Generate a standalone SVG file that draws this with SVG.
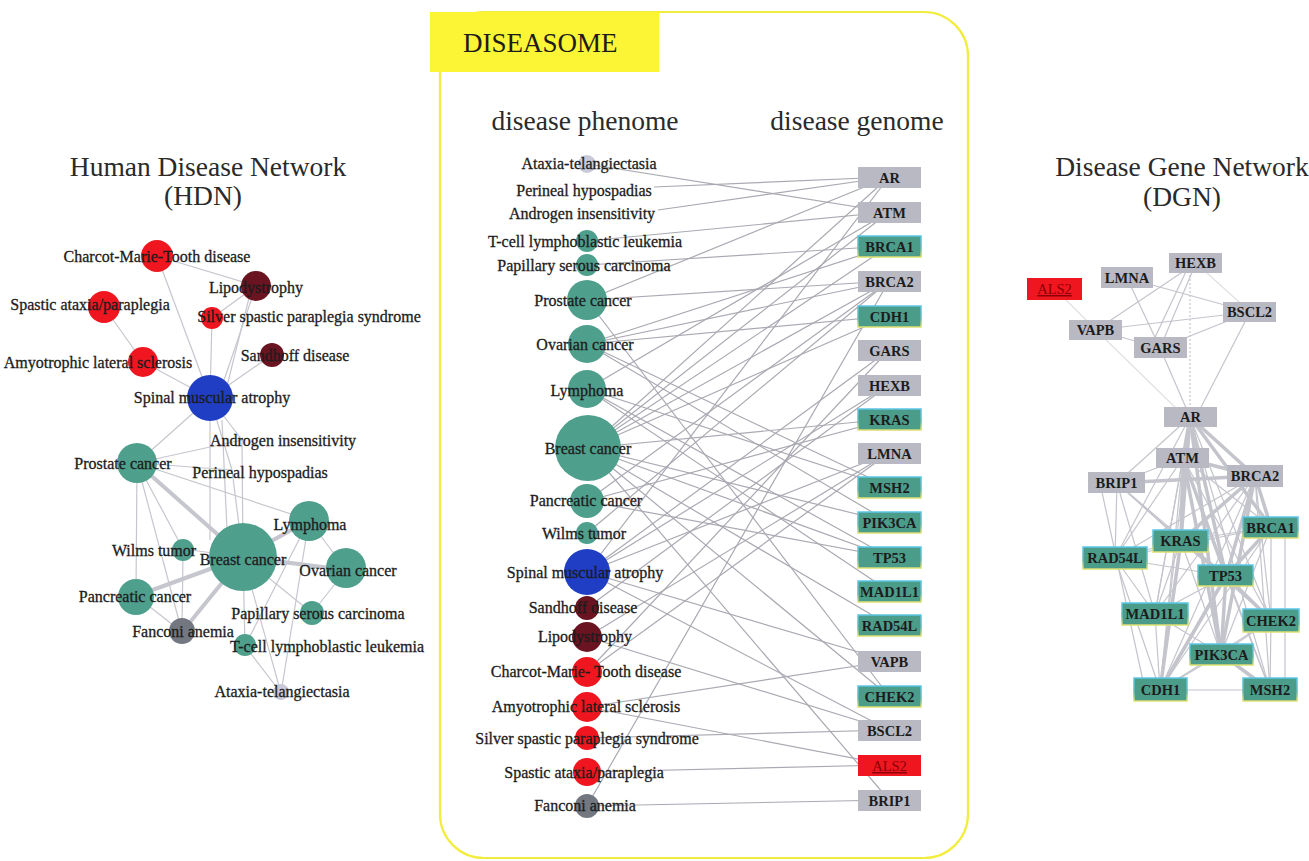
<svg xmlns="http://www.w3.org/2000/svg" width="1309" height="861" viewBox="0 0 1309 861">
<defs>
<linearGradient id="tb" x1="0" y1="0" x2="0" y2="1">
<stop offset="0" stop-color="#5cc6e6"/><stop offset="0.6" stop-color="#6ab8b0"/><stop offset="1" stop-color="#e0e070"/>
</linearGradient>
<style>
.t{font-family:"Liberation Serif","Times New Roman",serif;fill:#1c1c1c}
.ttl{font-size:27.5px;fill:#2a2a2a}
.lb{font-size:16px;text-anchor:middle;stroke:#1c1c1c;stroke-width:0.3}
.gl{font-size:14.5px;font-weight:bold;text-anchor:middle}
.he{stroke:#c6c6ce;stroke-width:1.2;fill:none}
.hk{stroke:#c6c6ce;stroke-width:4;fill:none}
.de{stroke:#a9a9b2;stroke-width:1.2;fill:none}
.ge{stroke:#c4c4cc;stroke-width:1.2;fill:none}
.gk{stroke:#c4c4cc;stroke-width:3.5;fill:none}
.teal{fill:#4f9f8d}
.red{fill:#f0161f}
.dred{fill:#6a1421}
.blue{fill:#1f3ec4}
.gry{fill:#737880}
.lav{fill:#c9c9d9}
.gb{fill:#b9b9c4}
.tb{fill:#4c9c8a;stroke:url(#tb);stroke-width:1.5}
.rb{fill:#f0161f}
</style>
</defs>
<rect width="1309" height="861" fill="#ffffff"/>

<!-- Titles -->
<text class="t ttl" x="208" y="176" text-anchor="middle">Human Disease Network</text>
<text class="t ttl" x="203" y="205" text-anchor="middle">(HDN)</text>
<text class="t ttl" x="1182" y="176" text-anchor="middle">Disease Gene Network</text>
<text class="t ttl" x="1182" y="206" text-anchor="middle">(DGN)</text>

<!-- Diseasome frame -->
<g id="diseasome-frame">
<rect x="440" y="12" width="528" height="846" rx="44" ry="44" fill="none" stroke="#f2ec3c" stroke-width="2.2"/>
<rect x="430" y="12" width="229" height="60" fill="#fcf536"/>
<text class="t" x="463" y="52" font-size="27" fill="#2a2a2a">DISEASOME</text>
<text class="t ttl" x="585" y="130" text-anchor="middle">disease phenome</text>
<text class="t ttl" x="857" y="130" text-anchor="middle">disease genome</text>
</g>

<!-- HDN edges -->
<g id="hdn-edges">
<line class="he" x1="157" y1="256" x2="256" y2="286"/>
<line class="he" x1="157" y1="256" x2="210" y2="398"/>
<line class="he" x1="104" y1="307" x2="143" y2="362"/>
<line class="he" x1="143" y1="362" x2="210" y2="398"/>
<line class="he" x1="212" y1="318" x2="256" y2="286"/>
<line class="he" x1="212" y1="318" x2="210" y2="398"/>
<line class="he" x1="256" y1="286" x2="218" y2="398"/>
<line class="he" x1="252" y1="286" x2="224" y2="398"/>
<line class="he" x1="272" y1="355" x2="210" y2="398"/>
<line class="he" x1="210" y1="398" x2="242" y2="440"/>
<line class="he" x1="210" y1="398" x2="232" y2="470"/>
<line class="he" x1="210" y1="398" x2="137" y2="463"/>
<line class="he" x1="210" y1="398" x2="210" y2="540"/>
<line class="he" x1="222" y1="420" x2="227" y2="530"/>
<line class="he" x1="242" y1="440" x2="243" y2="557"/>
<line class="he" x1="242" y1="440" x2="137" y2="463"/>
<line class="he" x1="232" y1="470" x2="137" y2="463"/>
<line class="he" x1="232" y1="470" x2="243" y2="557"/>
<line class="hk" x1="137" y1="463" x2="243" y2="557"/>
<line class="he" x1="137" y1="463" x2="309" y2="520"/>
<line class="he" x1="137" y1="463" x2="183" y2="549"/>
<line class="he" x1="137" y1="463" x2="136" y2="596"/>
<line class="he" x1="137" y1="463" x2="182" y2="632"/>
<line class="hk" x1="243" y1="557" x2="309" y2="520"/>
<line class="hk" x1="243" y1="557" x2="346" y2="570"/>
<line class="hk" x1="243" y1="557" x2="136" y2="596"/>
<line class="hk" x1="243" y1="557" x2="182" y2="632"/>
<line class="he" x1="243" y1="557" x2="183" y2="549"/>
<line class="he" x1="243" y1="557" x2="312" y2="613"/>
<line class="he" x1="243" y1="557" x2="245" y2="646"/>
<line class="he" x1="243" y1="557" x2="281" y2="693"/>
<line class="he" x1="309" y1="520" x2="346" y2="570"/>
<line class="he" x1="309" y1="520" x2="245" y2="646"/>
<line class="he" x1="309" y1="520" x2="281" y2="693"/>
<line class="he" x1="346" y1="570" x2="312" y2="613"/>
<line class="he" x1="183" y1="549" x2="182" y2="632"/>
<line class="he" x1="136" y1="596" x2="182" y2="632"/>
<line class="he" x1="245" y1="646" x2="281" y2="693"/>
</g>

<!-- HDN nodes -->
<g id="hdn-cmt"><circle class="red" cx="157" cy="256" r="16"/><text class="t lb" x="157" y="262">Charcot-Marie-Tooth disease</text></g>
<g id="hdn-lipodystrophy"><circle class="dred" cx="256" cy="286" r="15"/><text class="t lb" x="256" y="293">Lipodystrophy</text></g>
<g id="hdn-spastic"><circle class="red" cx="104" cy="307" r="16"/><text class="t lb" x="90" y="310">Spastic ataxia/paraplegia</text></g>
<g id="hdn-silver"><circle class="red" cx="212" cy="318" r="11"/><text class="t lb" x="309" y="322">Silver spastic paraplegia syndrome</text></g>
<g id="hdn-sandhoff"><circle class="dred" cx="272" cy="355" r="12"/><text class="t lb" x="295" y="361">Sandhoff disease</text></g>
<g id="hdn-als"><circle class="red" cx="143" cy="362" r="15"/><text class="t lb" x="98" y="368">Amyotrophic lateral sclerosis</text></g>
<g id="hdn-sma"><circle class="blue" cx="210" cy="398" r="23"/><text class="t lb" x="212" y="403">Spinal muscular atrophy</text></g>
<g id="hdn-androgen"><text class="t lb" x="283" y="446">Androgen insensitivity</text></g>
<g id="hdn-prostate"><circle class="teal" cx="137" cy="463" r="20"/><text class="t lb" x="123" y="469">Prostate cancer</text></g>
<g id="hdn-perineal"><text class="t lb" x="260" y="478">Perineal hypospadias</text></g>
<g id="hdn-lymphoma"><circle class="teal" cx="309" cy="521" r="20"/><text class="t lb" x="310" y="530">Lymphoma</text></g>
<g id="hdn-breast"><circle class="teal" cx="243" cy="557" r="34"/><text class="t lb" x="243" y="565">Breast cancer</text></g>
<g id="hdn-wilms"><circle class="teal" cx="183" cy="550" r="11"/><text class="t lb" x="154" y="556">Wilms tumor</text></g>
<g id="hdn-ovarian"><circle class="teal" cx="346" cy="568" r="20"/><text class="t lb" x="348" y="576">Ovarian cancer</text></g>
<g id="hdn-pancreatic"><circle class="teal" cx="136" cy="597" r="18"/><text class="t lb" x="135" y="602">Pancreatic cancer</text></g>
<g id="hdn-papillary"><circle class="teal" cx="312" cy="613" r="12"/><text class="t lb" x="318" y="619">Papillary serous carcinoma</text></g>
<g id="hdn-fanconi"><circle class="gry" cx="182" cy="631" r="13"/><text class="t lb" x="183" y="637">Fanconi anemia</text></g>
<g id="hdn-tcell"><circle class="teal" cx="245" cy="645" r="11"/><text class="t lb" x="327" y="652">T-cell lymphoblastic leukemia</text></g>
<g id="hdn-ataxia"><circle class="lav" cx="281" cy="692" r="8"/><text class="t lb" x="282" y="697">Ataxia-telangiectasia</text></g>

<!-- Diseasome edges -->
<g id="diseasome-edges">
<line class="de" x1="587" y1="164" x2="889" y2="212"/>
<line class="de" x1="654" y1="187" x2="889" y2="177"/>
<line class="de" x1="658" y1="210" x2="889" y2="177"/>
<line class="de" x1="587" y1="241" x2="889" y2="212"/>
<line class="de" x1="587" y1="265" x2="889" y2="246"/>
<line class="de" x1="587" y1="300" x2="889" y2="177"/>
<line class="de" x1="587" y1="300" x2="889" y2="281"/>
<line class="de" x1="587" y1="300" x2="889" y2="696"/>
<line class="de" x1="587" y1="344" x2="889" y2="246"/>
<line class="de" x1="587" y1="344" x2="889" y2="281"/>
<line class="de" x1="587" y1="344" x2="889" y2="316"/>
<line class="de" x1="587" y1="344" x2="889" y2="487"/>
<line class="de" x1="587" y1="344" x2="889" y2="522"/>
<line class="de" x1="587" y1="389" x2="889" y2="212"/>
<line class="de" x1="587" y1="389" x2="889" y2="557"/>
<line class="de" x1="587" y1="389" x2="889" y2="591"/>
<line class="de" x1="587" y1="389" x2="889" y2="487"/>
<line class="de" x1="588" y1="448" x2="889" y2="177"/>
<line class="de" x1="588" y1="448" x2="889" y2="212"/>
<line class="de" x1="588" y1="448" x2="889" y2="246"/>
<line class="de" x1="588" y1="448" x2="889" y2="281"/>
<line class="de" x1="588" y1="448" x2="889" y2="316"/>
<line class="de" x1="588" y1="448" x2="889" y2="419"/>
<line class="de" x1="588" y1="448" x2="889" y2="522"/>
<line class="de" x1="588" y1="448" x2="889" y2="557"/>
<line class="de" x1="588" y1="448" x2="889" y2="625"/>
<line class="de" x1="588" y1="448" x2="889" y2="696"/>
<line class="de" x1="588" y1="448" x2="889" y2="800"/>
<line class="de" x1="587" y1="501" x2="889" y2="281"/>
<line class="de" x1="587" y1="501" x2="889" y2="419"/>
<line class="de" x1="587" y1="501" x2="889" y2="557"/>
<line class="de" x1="587" y1="533" x2="889" y2="281"/>
<line class="de" x1="587" y1="572" x2="889" y2="177"/>
<line class="de" x1="587" y1="572" x2="889" y2="350"/>
<line class="de" x1="587" y1="572" x2="889" y2="385"/>
<line class="de" x1="587" y1="572" x2="889" y2="453"/>
<line class="de" x1="587" y1="572" x2="889" y2="661"/>
<line class="de" x1="587" y1="572" x2="889" y2="730"/>
<line class="de" x1="587" y1="608" x2="889" y2="385"/>
<line class="de" x1="587" y1="637" x2="889" y2="453"/>
<line class="de" x1="587" y1="637" x2="889" y2="730"/>
<line class="de" x1="587" y1="672" x2="889" y2="350"/>
<line class="de" x1="587" y1="672" x2="889" y2="453"/>
<line class="de" x1="587" y1="707" x2="889" y2="661"/>
<line class="de" x1="587" y1="707" x2="889" y2="765"/>
<line class="de" x1="587" y1="738" x2="889" y2="730"/>
<line class="de" x1="587" y1="772" x2="889" y2="765"/>
<line class="de" x1="587" y1="806" x2="889" y2="281"/>
<line class="de" x1="587" y1="806" x2="889" y2="800"/>
</g>

<!-- Diseasome phenome nodes -->
<g id="d-ataxia"><circle class="lav" cx="587" cy="164" r="9"/><text class="t lb" x="589" y="169">Ataxia-telangiectasia</text></g>
<g id="d-perineal"><text class="t lb" x="584" y="196">Perineal hypospadias</text></g>
<g id="d-androgen"><text class="t lb" x="582" y="219">Androgen insensitivity</text></g>
<g id="d-tcell"><circle class="teal" cx="587" cy="241" r="11"/><text class="t lb" x="585" y="247">T-cell lymphoblastic leukemia</text></g>
<g id="d-papillary"><circle class="teal" cx="587" cy="265" r="11"/><text class="t lb" x="584" y="271">Papillary serous carcinoma</text></g>
<g id="d-prostate"><circle class="teal" cx="587" cy="300" r="20"/><text class="t lb" x="583" y="306">Prostate cancer</text></g>
<g id="d-ovarian"><circle class="teal" cx="587" cy="344" r="19"/><text class="t lb" x="585" y="350">Ovarian cancer</text></g>
<g id="d-lymphoma"><circle class="teal" cx="587" cy="389" r="19"/><text class="t lb" x="587" y="396">Lymphoma</text></g>
<g id="d-breast"><circle class="teal" cx="588" cy="448" r="33"/><text class="t lb" x="588" y="454">Breast cancer</text></g>
<g id="d-pancreatic"><circle class="teal" cx="587" cy="501" r="17"/><text class="t lb" x="586" y="506">Pancreatic cancer</text></g>
<g id="d-wilms"><circle class="teal" cx="587" cy="533" r="11"/><text class="t lb" x="584" y="539">Wilms tumor</text></g>
<g id="d-sma"><circle class="blue" cx="587" cy="572" r="23"/><text class="t lb" x="585" y="578">Spinal muscular atrophy</text></g>
<g id="d-sandhoff"><circle class="dred" cx="587" cy="608" r="12"/><text class="t lb" x="583" y="613">Sandhoff disease</text></g>
<g id="d-lipodystrophy"><circle class="dred" cx="587" cy="637" r="15"/><text class="t lb" x="585" y="642">Lipodystrophy</text></g>
<g id="d-cmt"><circle class="red" cx="587" cy="672" r="15"/><text class="t lb" x="586" y="677">Charcot-Marie- Tooth disease</text></g>
<g id="d-als"><circle class="red" cx="587" cy="707" r="15"/><text class="t lb" x="586" y="712">Amyotrophic lateral sclerosis</text></g>
<g id="d-silver"><circle class="red" cx="587" cy="738" r="12"/><text class="t lb" x="587" y="744">Silver spastic paraplegia syndrome</text></g>
<g id="d-spastic"><circle class="red" cx="587" cy="772" r="14"/><text class="t lb" x="584" y="778">Spastic ataxia/paraplegia</text></g>
<g id="d-fanconi"><circle class="gry" cx="587" cy="806" r="12"/><text class="t lb" x="585" y="811">Fanconi anemia</text></g>

<!-- Diseasome genome nodes -->
<g id="d-AR"><rect class="gb" x="858" y="167" width="63" height="21"/><text class="t gl" x="889.5" y="183">AR</text></g>
<g id="d-ATM"><rect class="gb" x="858" y="202" width="63" height="21"/><text class="t gl" x="889.5" y="218">ATM</text></g>
<g id="d-BRCA1"><rect class="tb" x="858" y="236" width="63" height="21"/><text class="t gl" x="889.5" y="252">BRCA1</text></g>
<g id="d-BRCA2"><rect class="gb" x="858" y="271" width="63" height="21"/><text class="t gl" x="889.5" y="287">BRCA2</text></g>
<g id="d-CDH1"><rect class="tb" x="858" y="306" width="63" height="21"/><text class="t gl" x="889.5" y="322">CDH1</text></g>
<g id="d-GARS"><rect class="gb" x="858" y="340" width="63" height="21"/><text class="t gl" x="889.5" y="356">GARS</text></g>
<g id="d-HEXB"><rect class="gb" x="858" y="375" width="63" height="21"/><text class="t gl" x="889.5" y="391">HEXB</text></g>
<g id="d-KRAS"><rect class="tb" x="858" y="409" width="63" height="21"/><text class="t gl" x="889.5" y="425">KRAS</text></g>
<g id="d-LMNA"><rect class="gb" x="858" y="443" width="63" height="21"/><text class="t gl" x="889.5" y="459">LMNA</text></g>
<g id="d-MSH2"><rect class="tb" x="858" y="477" width="63" height="21"/><text class="t gl" x="889.5" y="493">MSH2</text></g>
<g id="d-PIK3CA"><rect class="tb" x="858" y="512" width="63" height="21"/><text class="t gl" x="889.5" y="528">PIK3CA</text></g>
<g id="d-TP53"><rect class="tb" x="858" y="547" width="63" height="21"/><text class="t gl" x="889.5" y="563">TP53</text></g>
<g id="d-MAD1L1"><rect class="tb" x="858" y="581" width="63" height="21"/><text class="t gl" x="889.5" y="597">MAD1L1</text></g>
<g id="d-RAD54L"><rect class="tb" x="858" y="615" width="63" height="21"/><text class="t gl" x="889.5" y="631">RAD54L</text></g>
<g id="d-VAPB"><rect class="gb" x="858" y="651" width="63" height="21"/><text class="t gl" x="889.5" y="667">VAPB</text></g>
<g id="d-CHEK2"><rect class="tb" x="858" y="686" width="63" height="21"/><text class="t gl" x="889.5" y="702">CHEK2</text></g>
<g id="d-BSCL2"><rect class="gb" x="858" y="720" width="63" height="21"/><text class="t gl" x="889.5" y="736">BSCL2</text></g>
<g id="d-ALS2"><rect class="rb" x="858" y="755" width="63" height="21"/><text class="t gl" x="889.5" y="771" style="fill:#8a0008;font-weight:normal" text-decoration="underline">ALS2</text></g>
<g id="d-BRIP1"><rect class="gb" x="858" y="790" width="63" height="21"/><text class="t gl" x="889.5" y="806">BRIP1</text></g>

<!-- DGN edges -->
<g id="dgn-edges">
<line class="ge" x1="1196" y1="263" x2="1096" y2="330"/>
<line class="ge" x1="1196" y1="263" x2="1160" y2="348"/>
<line class="ge" x1="1190" y1="263" x2="1150" y2="348"/>
<line class="ge" x1="1190" y1="263" x2="1190" y2="417" stroke-dasharray="2 2"/>
<line class="ge" x1="1196" y1="263" x2="1250" y2="312" opacity="0.5"/>
<line class="ge" x1="1127" y1="278" x2="1250" y2="312"/>
<line class="ge" x1="1127" y1="278" x2="1160" y2="348"/>
<line class="ge" x1="1096" y1="330" x2="1250" y2="312"/>
<line class="ge" x1="1096" y1="330" x2="1160" y2="348"/>
<line class="ge" x1="1160" y1="348" x2="1250" y2="312"/>
<line class="ge" x1="1160" y1="348" x2="1190" y2="417"/>
<line class="ge" x1="1250" y1="312" x2="1196" y2="417"/>
<line class="ge" x1="1096" y1="330" x2="1185" y2="417" opacity="0.5"/>
<line class="ge" x1="1055" y1="289" x2="1096" y2="330" opacity="0.5"/>
<line class="gk" x1="1190" y1="417" x2="1183" y2="458"/>
<line class="gk" x1="1190" y1="417" x2="1255" y2="476"/>
<line class="ge" x1="1190" y1="417" x2="1117" y2="483"/>
<line class="gk" x1="1190" y1="417" x2="1181" y2="541"/>
<line class="gk" x1="1190" y1="417" x2="1226" y2="576"/>
<line class="ge" x1="1190" y1="417" x2="1115" y2="558"/>
<line class="ge" x1="1190" y1="417" x2="1155" y2="614"/>
<line class="gk" x1="1190" y1="417" x2="1221" y2="654"/>
<line class="ge" x1="1190" y1="417" x2="1271" y2="620"/>
<line class="gk" x1="1190" y1="417" x2="1271" y2="527"/>
<line class="ge" x1="1190" y1="417" x2="1160" y2="690"/>
<line class="ge" x1="1190" y1="417" x2="1270" y2="690"/>
<line class="ge" x1="1183" y1="458" x2="1117" y2="483"/>
<line class="gk" x1="1183" y1="458" x2="1255" y2="476"/>
<line class="gk" x1="1117" y1="483" x2="1255" y2="476"/>
<line class="gk" x1="1183" y1="458" x2="1181" y2="541"/>
<line class="ge" x1="1183" y1="458" x2="1115" y2="558"/>
<line class="gk" x1="1183" y1="458" x2="1226" y2="576"/>
<line class="ge" x1="1183" y1="458" x2="1271" y2="527"/>
<line class="ge" x1="1183" y1="458" x2="1155" y2="614"/>
<line class="ge" x1="1183" y1="458" x2="1271" y2="620"/>
<line class="gk" x1="1183" y1="458" x2="1221" y2="654"/>
<line class="ge" x1="1183" y1="458" x2="1160" y2="690"/>
<line class="ge" x1="1183" y1="458" x2="1270" y2="690"/>
<line class="gk" x1="1255" y1="476" x2="1271" y2="527"/>
<line class="gk" x1="1255" y1="476" x2="1181" y2="541"/>
<line class="gk" x1="1255" y1="476" x2="1226" y2="576"/>
<line class="ge" x1="1255" y1="476" x2="1115" y2="558"/>
<line class="ge" x1="1255" y1="476" x2="1271" y2="620"/>
<line class="gk" x1="1255" y1="476" x2="1221" y2="654"/>
<line class="ge" x1="1255" y1="476" x2="1270" y2="690"/>
<line class="ge" x1="1255" y1="476" x2="1160" y2="690"/>
<line class="ge" x1="1255" y1="476" x2="1155" y2="614"/>
<line class="ge" x1="1117" y1="483" x2="1115" y2="558"/>
<line class="ge" x1="1117" y1="483" x2="1181" y2="541"/>
<line class="ge" x1="1117" y1="483" x2="1226" y2="576"/>
<line class="ge" x1="1100" y1="483" x2="1145" y2="690"/>
<line class="ge" x1="1117" y1="483" x2="1155" y2="614"/>
<line class="ge" x1="1117" y1="483" x2="1271" y2="620"/>
<line class="ge" x1="1271" y1="527" x2="1181" y2="541"/>
<line class="gk" x1="1271" y1="527" x2="1226" y2="576"/>
<line class="ge" x1="1271" y1="527" x2="1271" y2="620"/>
<line class="ge" x1="1271" y1="527" x2="1221" y2="654"/>
<line class="ge" x1="1285" y1="527" x2="1285" y2="690"/>
<line class="ge" x1="1271" y1="527" x2="1160" y2="690"/>
<line class="ge" x1="1271" y1="527" x2="1115" y2="558"/>
<line class="ge" x1="1181" y1="541" x2="1115" y2="558"/>
<line class="gk" x1="1181" y1="541" x2="1226" y2="576"/>
<line class="ge" x1="1181" y1="541" x2="1221" y2="654"/>
<line class="gk" x1="1181" y1="541" x2="1160" y2="690"/>
<line class="ge" x1="1181" y1="541" x2="1155" y2="614"/>
<line class="ge" x1="1115" y1="558" x2="1226" y2="576"/>
<line class="ge" x1="1115" y1="558" x2="1160" y2="690"/>
<line class="ge" x1="1115" y1="558" x2="1155" y2="614"/>
<line class="ge" x1="1226" y1="576" x2="1155" y2="614"/>
<line class="gk" x1="1226" y1="576" x2="1271" y2="620"/>
<line class="gk" x1="1226" y1="576" x2="1221" y2="654"/>
<line class="gk" x1="1226" y1="576" x2="1160" y2="690"/>
<line class="ge" x1="1226" y1="576" x2="1270" y2="690"/>
<line class="ge" x1="1155" y1="614" x2="1221" y2="654"/>
<line class="ge" x1="1155" y1="614" x2="1160" y2="690"/>
<line class="ge" x1="1271" y1="620" x2="1221" y2="654"/>
<line class="ge" x1="1271" y1="620" x2="1270" y2="690"/>
<line class="ge" x1="1271" y1="620" x2="1160" y2="690"/>
<line class="ge" x1="1221" y1="654" x2="1160" y2="690"/>
<line class="gk" x1="1221" y1="654" x2="1270" y2="690"/>
<line class="ge" x1="1160" y1="690" x2="1270" y2="690"/>
</g>

<!-- DGN nodes -->
<g id="g-HEXB"><rect class="gb" x="1169" y="253" width="53" height="20"/><text class="t gl" x="1195.5" y="268">HEXB</text></g>
<g id="g-LMNA"><rect class="gb" x="1101" y="267" width="52" height="21"/><text class="t gl" x="1127" y="283">LMNA</text></g>
<g id="g-ALS2"><rect class="rb" x="1027" y="278" width="55" height="22"/><text class="t gl" x="1054.5" y="294" style="fill:#8a0008;font-weight:normal" text-decoration="underline">ALS2</text></g>
<g id="g-BSCL2"><rect class="gb" x="1223" y="302" width="53" height="20"/><text class="t gl" x="1249.5" y="317">BSCL2</text></g>
<g id="g-VAPB"><rect class="gb" x="1069" y="320" width="53" height="20"/><text class="t gl" x="1095.5" y="335">VAPB</text></g>
<g id="g-GARS"><rect class="gb" x="1134" y="337" width="53" height="21"/><text class="t gl" x="1160.5" y="353">GARS</text></g>
<g id="g-AR"><rect class="gb" x="1164" y="407" width="53" height="20"/><text class="t gl" x="1190.5" y="422">AR</text></g>
<g id="g-ATM"><rect class="gb" x="1156" y="448" width="53" height="20"/><text class="t gl" x="1182.5" y="463">ATM</text></g>
<g id="g-BRIP1"><rect class="gb" x="1088" y="472" width="57" height="21"/><text class="t gl" x="1116.5" y="488">BRIP1</text></g>
<g id="g-BRCA2"><rect class="gb" x="1227" y="465" width="56" height="22"/><text class="t gl" x="1255" y="481">BRCA2</text></g>
<g id="g-BRCA1"><rect class="tb" x="1243" y="517" width="55" height="21"/><text class="t gl" x="1270.5" y="533">BRCA1</text></g>
<g id="g-KRAS"><rect class="tb" x="1153" y="530" width="55" height="22"/><text class="t gl" x="1180.5" y="546">KRAS</text></g>
<g id="g-RAD54L"><rect class="tb" x="1083" y="547" width="64" height="22"/><text class="t gl" x="1115" y="563">RAD54L</text></g>
<g id="g-TP53"><rect class="tb" x="1198" y="565" width="55" height="21"/><text class="t gl" x="1225.5" y="581">TP53</text></g>
<g id="g-MAD1L1"><rect class="tb" x="1122" y="603" width="66" height="22"/><text class="t gl" x="1155" y="619">MAD1L1</text></g>
<g id="g-CHEK2"><rect class="tb" x="1243" y="609" width="56" height="23"/><text class="t gl" x="1271" y="626">CHEK2</text></g>
<g id="g-PIK3CA"><rect class="tb" x="1190" y="644" width="63" height="21"/><text class="t gl" x="1221.5" y="660">PIK3CA</text></g>
<g id="g-CDH1"><rect class="tb" x="1134" y="678" width="53" height="23"/><text class="t gl" x="1160.5" y="695">CDH1</text></g>
<g id="g-MSH2"><rect class="tb" x="1243" y="678" width="54" height="23"/><text class="t gl" x="1270" y="695">MSH2</text></g>
</svg>
